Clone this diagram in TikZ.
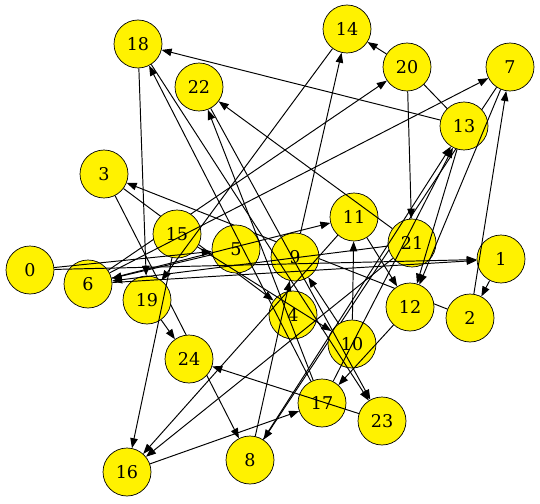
\documentclass[tikz,border=0pt]{standalone}
\usepackage{fontspec}
\setmainfont{DejaVu Serif}
\usetikzlibrary{arrows.meta}
\pgfdeclarelayer{back}
\pgfsetlayers{back,main}

\begin{document}
\begin{tikzpicture}[x=0.02cm,y=-0.02cm,
    >={Triangle[length=0.2cm,width=0.15cm]},
    vertex/.style={circle,draw,fill=yellow,minimum size=0.96cm,inner sep=0pt,
        font=\fontsize{10}{12}\selectfont},
    link/.style={->,line width=0.55pt}]
    \useasboundingbox (0,0) rectangle (540,503);

    % vertices (pixel positions)
    \foreach \n/\x/\y in {0/30/270, 1/501/259, 2/470/318, 3/104/174,
        4/293/315, 5/236/249, 6/88/284, 7/510/67, 8/250/460, 9/295/257,
        10/352/344, 11/354/217, 12/410/307, 13/464/126, 14/347/29,
        15/177/234, 16/127/472, 17/322/403, 18/138/44, 19/147/300,
        20/407/67, 21/412/243, 22/199/87, 23/382/421, 24/189/359}{
        \node[vertex] (v\n) at (\x,\y) {\n};
    }

    % edges that run under some vertices
    \begin{pgfonlayer}{back}
        \foreach \a/\b in {3/8, 3/4, 2/3, 7/8, 6/20}{
            \draw[link] (v\a) -- (v\b);
        }
    \end{pgfonlayer}

    % edges drawn over the vertices
    \foreach \a/\b in {20/14, 9/14, 14/19, 13/18, 17/18, 18/19, 18/23,
        17/22, 22/23, 21/22, 6/7, 2/7, 20/21, 7/12, 13/12, 11/12, 12/17,
        8/13, 17/13, 11/16, 8/9, 10/9, 1/2, 15/10, 10/11, 19/24,
        23/24, 16/17, 15/16, 21/16, 0/5, 0/1, 6/1, 5/6, 21/6, 6/11}{
        \draw[link] (v\a) -- (v\b);
    }
    \draw[line width=0.55pt] (v20) -- (v13);
\end{tikzpicture}
\end{document}
